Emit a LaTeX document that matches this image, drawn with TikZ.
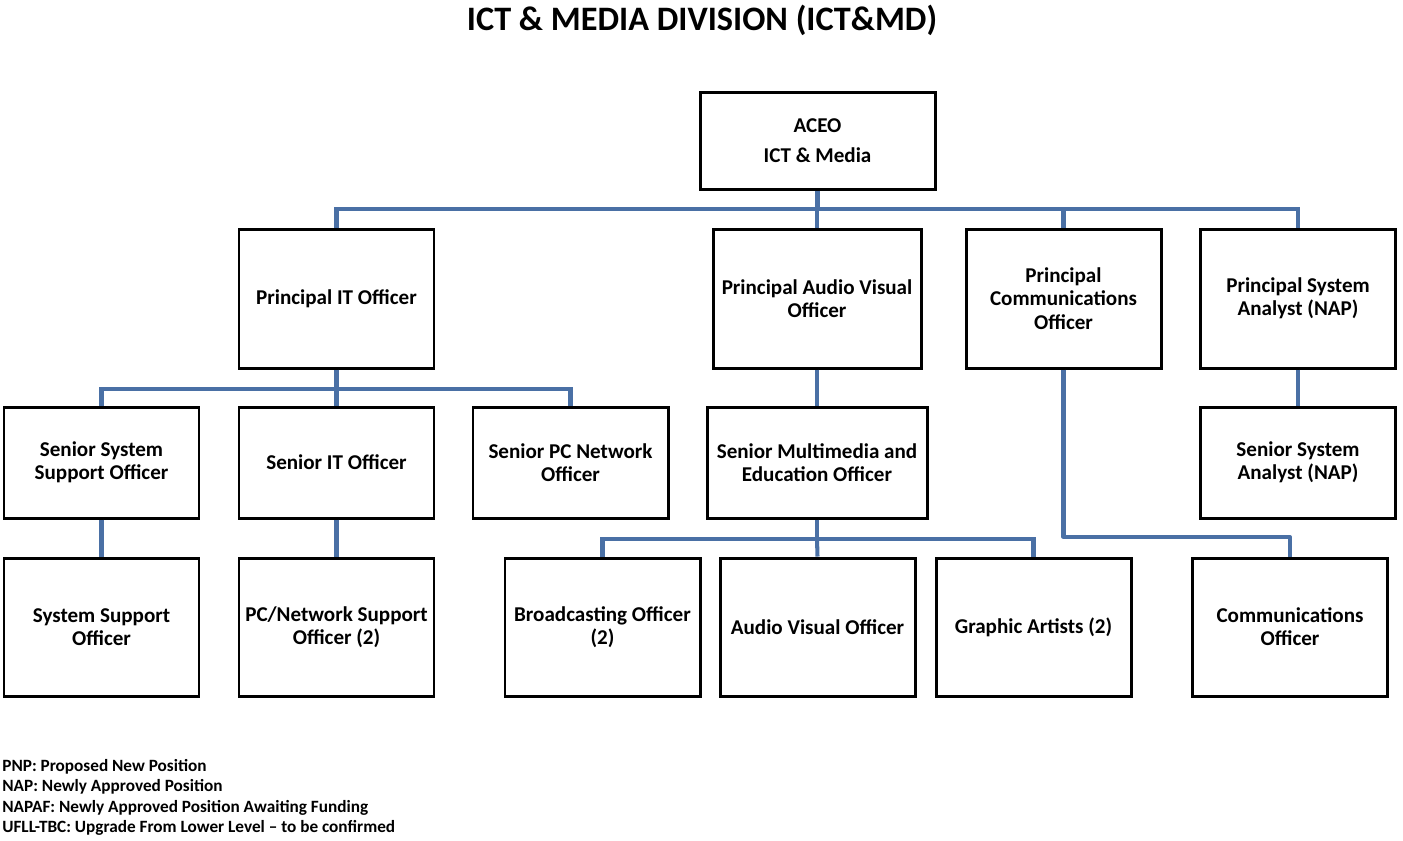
\documentclass[tikz,border=0pt]{standalone}
\usepackage{fontspec}
\setmainfont{Carlito}
\usepackage{tikz}
\usetikzlibrary{positioning}
\definecolor{linkblue}{RGB}{74,112,165}

\begin{document}
\begin{tikzpicture}[x=0.02cm, y=-0.02cm,
		post/.style={draw, line width=1.7pt, fill=white, align=center,
			minimum width=195*0.02cm, font=\fontsize{12}{13.2}\selectfont\bfseries,
			inner sep=2pt},
		link/.style={draw=linkblue, line width=2.3pt},
		legend/.style={anchor=west, inner sep=0pt, font=\fontsize{9.8}{11}\selectfont\bfseries}]
		\useasboundingbox (0,0) rectangle (1403,840);
		\node[font=\fontsize{19.5}{22}\selectfont\bfseries] (title) at (702,20) {ICT \& MEDIA DIVISION (ICT\&MD)};
		% top level
		\node[post, minimum width=235*0.02cm, minimum height=97*0.02cm] (aceo) at (817.5,140.5) {ACEO\\[4pt] ICT \& Media};
		% principals
		\node[post, minimum height=139*0.02cm] (pit) at (336.5,298.5) {Principal IT Officer};
		\node[post, minimum width=208*0.02cm, minimum height=139*0.02cm] (pav) at (817,298.5) {Principal Audio Visual\\Officer};
		\node[post, minimum height=139*0.02cm] (pco) at (1063.5,298.5) {Principal\\Communications\\Officer};
		\node[post, minimum height=139*0.02cm] (psa) at (1298,298.5) {Principal System\\Analyst (NAP)};
		% seniors
		\node[post, minimum height=111*0.02cm] (sss) at (101.5,462.5) {Senior System\\Support Officer};
		\node[post, minimum height=111*0.02cm] (sit) at (336.5,462.5) {Senior IT Officer};
		\node[post, minimum height=111*0.02cm] (spc) at (570.5,462.5) {Senior PC Network\\Officer};
		\node[post, minimum width=220*0.02cm, minimum height=111*0.02cm] (sme) at (817,462.5) {Senior Multimedia and\\Education Officer};
		\node[post, minimum height=111*0.02cm] (ssa) at (1298,462.5) {Senior System\\Analyst (NAP)};
		% officers
		\node[post, minimum height=138*0.02cm] (sso) at (101.5,627) {System Support\\Officer};
		\node[post, minimum height=138*0.02cm] (pcn) at (336.5,627) {PC/Network Support\\Officer (2)};
		\node[post, minimum height=138*0.02cm] (bro) at (602.5,627) {Broadcasting Officer\\(2)};
		\node[post, minimum height=138*0.02cm] (avo) at (817.5,627) {Audio Visual Officer};
		\node[post, minimum height=138*0.02cm] (gra) at (1033.5,627) {Graphic Artists (2)};
		\node[post, minimum height=138*0.02cm] (com) at (1290,627) {Communications\\Officer};
		% connectors
		\coordinate (bustop) at (817.5,209);
		\coordinate (busit) at (336.5,389);
		\coordinate (busmm) at (817,539);
		\coordinate (buscom) at (1063.5,537);
		\draw[link] (aceo) -- (bustop);
		\draw[link] (bustop) -| (pit.north);
		\draw[link] (bustop) -| (pav.north);
		\draw[link] (bustop) -| (pco.north);
		\draw[link] (bustop) -| (psa.north);
		\draw[link] (pit) -- (busit);
		\draw[link] (busit) -| (sss.north);
		\draw[link] (busit) -- (sit.north);
		\draw[link] (busit) -| (spc.north);
		\draw[link] (pav) -- (sme);
		\draw[link] (psa) -- (ssa);
		\draw[link] (sss) -- (sso);
		\draw[link] (sit) -- (pcn);
		\draw[link] (sme) -- (busmm);
		\draw[link] (busmm) -| (bro.north);
		\draw[link] (busmm) -- (avo.north);
		\draw[link] (busmm) -| (gra.north);
		\draw[link, line join=round] (pco.south) -- (buscom) -| (com.north);
		% legend
		\node[legend] (pnp) at (2,767) {PNP: Proposed New Position};
		\node[legend] (nap) at (2,787) {NAP: Newly Approved Position};
		\node[legend] (napaf) at (2,808) {NAPAF: Newly Approved Position Awaiting Funding};
		\node[legend] (ufll) at (2,828) {UFLL-TBC: Upgrade From Lower Level -- to be confirmed};
	\end{tikzpicture}
\end{document}
